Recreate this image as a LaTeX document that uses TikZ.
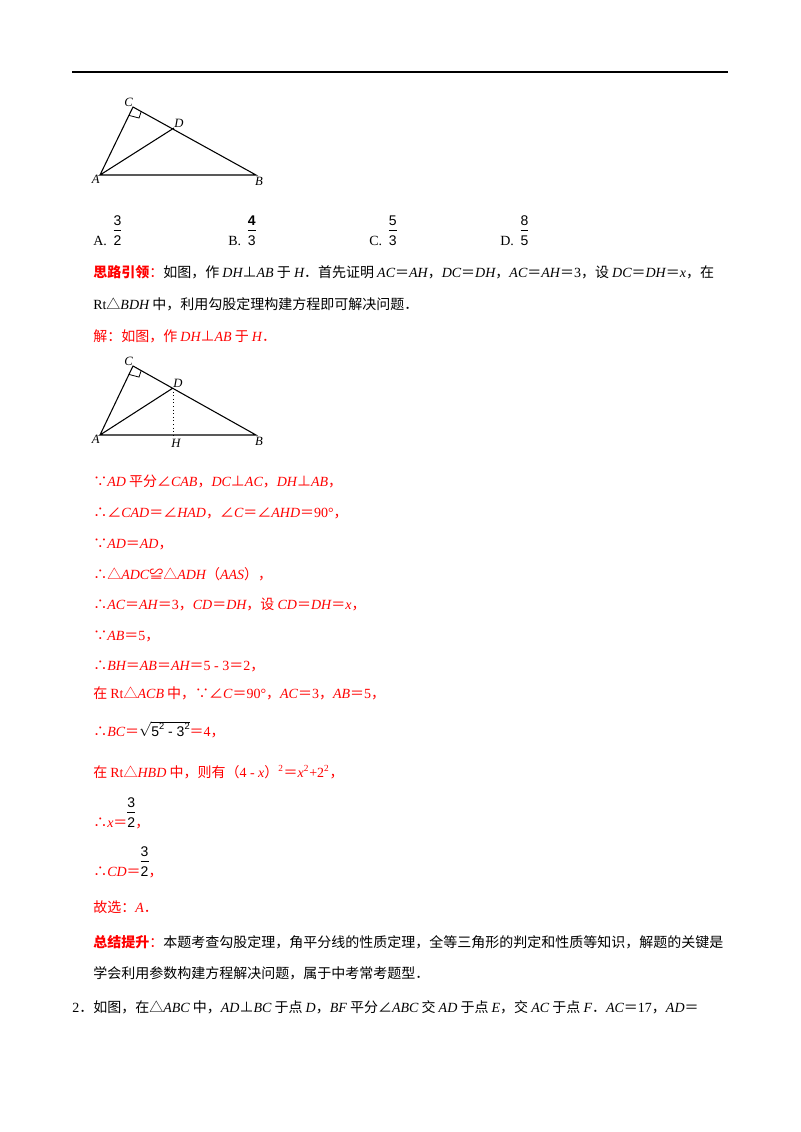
\documentclass[tikz,border=0pt]{standalone}
\usetikzlibrary{calc}
\usepackage{fontspec}
\setmainfont{Noto Sans CJK SC}
\newfontfamily\lat{Liberation Serif}
\newfontfamily\ars{Liberation Sans}
\newcommand{\m}[1]{{\lat\itshape #1}}
\newcommand{\n}[1]{{\lat #1}}
\newcommand{\fr}[2]{{\ars\renewcommand{\arraystretch}{1.05}\setlength{\tabcolsep}{1pt}\begin{tabular}[b]{@{}c@{}}#1\\[-1pt]\hline\rule{0pt}{11pt}#2\end{tabular}}}
\newcommand{\sq}[1]{\raisebox{-0.5pt}{\scriptsize\ars #1}}
\definecolor{rd}{RGB}{255,0,0}
\tikzset{t/.style={anchor=base west,inner sep=0pt,font=\fontsize{10.5}{13}\selectfont},
 r/.style={t,text=rd},
 lab/.style={inner sep=0pt,font=\lat\itshape\fontsize{9.5}{11}\selectfont},
 seg/.style={line width=0.8pt}}
\begin{document}
\begin{tikzpicture}[x=0.75pt,y=-0.75pt]
\useasboundingbox (0,0) rectangle (800,1132);
\draw[line width=1.2pt] (72,72) -- (728,72);
% figure 1
\coordinate (C1) at (133,107); \coordinate (D1) at (174,128);
\coordinate (A1) at (100,175); \coordinate (B1) at (256,175);
\draw[seg] (A1) -- (C1) -- (B1) -- (A1) -- (D1);
\draw[line width=0.6pt] ($(C1)!7pt!(B1)$) -- ++(-2.1,6.5) -- ($(C1)!7pt!(A1)$);
\node[lab,above left] (lc1) at (C1) {C};
\node[lab,above right] (ld1) at (D1) {D};
\node[lab,below left] (la1) at (A1) {A};
\node[lab,below] (lb1) at ($(B1)+(3,2)$) {B};
% options
\node[t] (oa) at (93,245) {\n{A.}\hspace{5pt}\fr{3}{2}};
\node[t] (ob) at (228,245) {\n{B.}\hspace{5pt}\fr{\textbf{4}}{3}};
\node[t] (oc) at (369,245) {\n{C.}\hspace{5pt}\fr{5}{3}};
\node[t] (od) at (500,245) {\n{D.}\hspace{5pt}\fr{8}{5}};
\node[t] (s1) at (93,277) {\textcolor{rd}{\textbf{思路引领}：}如图，作 \m{DH}⊥\m{AB} 于 \m{H}．首先证明 \m{AC}＝\m{AH}，\m{DC}＝\m{DH}，\m{AC}＝\m{AH}＝\n{3}，设 \m{DC}＝\m{DH}＝\m{x}，在};
\node[t] (s2) at (93,309) {\n{Rt}△\m{BDH} 中，利用勾股定理构建方程即可解决问题．};
\node[r] (s3) at (93,341) {解：如图，作 \m{DH}⊥\m{AB} 于 \m{H}．};
% figure 2
\coordinate (C2) at (133,366); \coordinate (D2) at (173,388);
\coordinate (A2) at (100,435); \coordinate (B2) at (256,435);
\coordinate (H2) at (173,435);
\draw[seg] (A2) -- (C2) -- (B2) -- (A2) -- (D2);
\draw[line width=0.6pt] ($(C2)!7pt!(B2)$) -- ++(-2.1,6.5) -- ($(C2)!7pt!(A2)$);
\draw[line width=0.7pt,dotted] (D2) -- (H2);
\node[lab,above left] (lc2) at (C2) {C};
\node[lab,above right] (ld2) at (D2) {D};
\node[lab,below left] (la2) at (A2) {A};
\node[lab,below] (lb2) at ($(B2)+(3,2)$) {B};
\node[lab,below] (lh2) at ($(H2)+(3,4)$) {H};
% solution
\node[r] (l1) at (93,486) {∵\m{AD} 平分∠\m{CAB}，\m{DC}⊥\m{AC}，\m{DH}⊥\m{AB}，};
\node[r] (l2) at (93,517) {∴∠\m{CAD}＝∠\m{HAD}，∠\m{C}＝∠\m{AHD}＝\n{90°}，};
\node[r] (l3) at (93,548) {∵\m{AD}＝\m{AD}，};
\node[r] (l4) at (93,579) {∴△\m{ADC}≌△\m{ADH}（\m{AAS}），};
\node[r] (l5) at (93,609) {∴\m{AC}＝\m{AH}＝\n{3}，\m{CD}＝\m{DH}，设 \m{CD}＝\m{DH}＝\m{x}，};
\node[r] (l6) at (93,640) {∵\m{AB}＝\n{5}，};
\node[r] (l7) at (93,670) {∴\m{BH}＝\m{AB}＝\m{AH}＝\n{5 - 3}＝\n{2}，};
\node[r] (l8) at (93,698) {在 \n{Rt}△\m{ACB} 中，∵∠\m{C}＝\n{90°}，\m{AC}＝\n{3}，\m{AB}＝\n{5}，};
\node[r] (l9) at (93,736) {∴\m{BC}＝\textcolor{black}{$\sqrt{\mbox{\ars 5\raisebox{5pt}{\scriptsize 2} - 3\raisebox{5pt}{\scriptsize 2}}}$}＝\n{4}，};
\node[r] (l10) at (93,777) {在 \n{Rt}△\m{HBD} 中，则有（\n{4 - }\m{x}）$^{\mbox{\lat\scriptsize 2}}$＝\m{x}$^{\mbox{\lat\scriptsize 2}}$\n{+2}$^{\mbox{\lat\scriptsize 2}}$，};
\node[r] (l11) at (93,827) {∴\m{x}＝\textcolor{black}{\fr{3}{2}}，};
\node[r] (l12) at (93,876) {∴\m{CD}＝\textcolor{black}{\fr{3}{2}}，};
\node[r] (l13) at (93,912) {故选：\m{A}．};
\node[t] (z1) at (93,947) {\textcolor{rd}{\textbf{总结提升}：}本题考查勾股定理，角平分线的性质定理，全等三角形的判定和性质等知识，解题的关键是};
\node[t] (z2) at (93,978) {学会利用参数构建方程解决问题，属于中考常考题型．};
\node[t] (q2) at (72,1012) {\n{2}．如图，在△\m{ABC} 中，\m{AD}⊥\m{BC} 于点 \m{D}，\m{BF} 平分∠\m{ABC} 交 \m{AD} 于点 \m{E}，交 \m{AC} 于点 \m{F}．\m{AC}＝\n{17}，\m{AD}＝};
\end{tikzpicture}
\end{document}
